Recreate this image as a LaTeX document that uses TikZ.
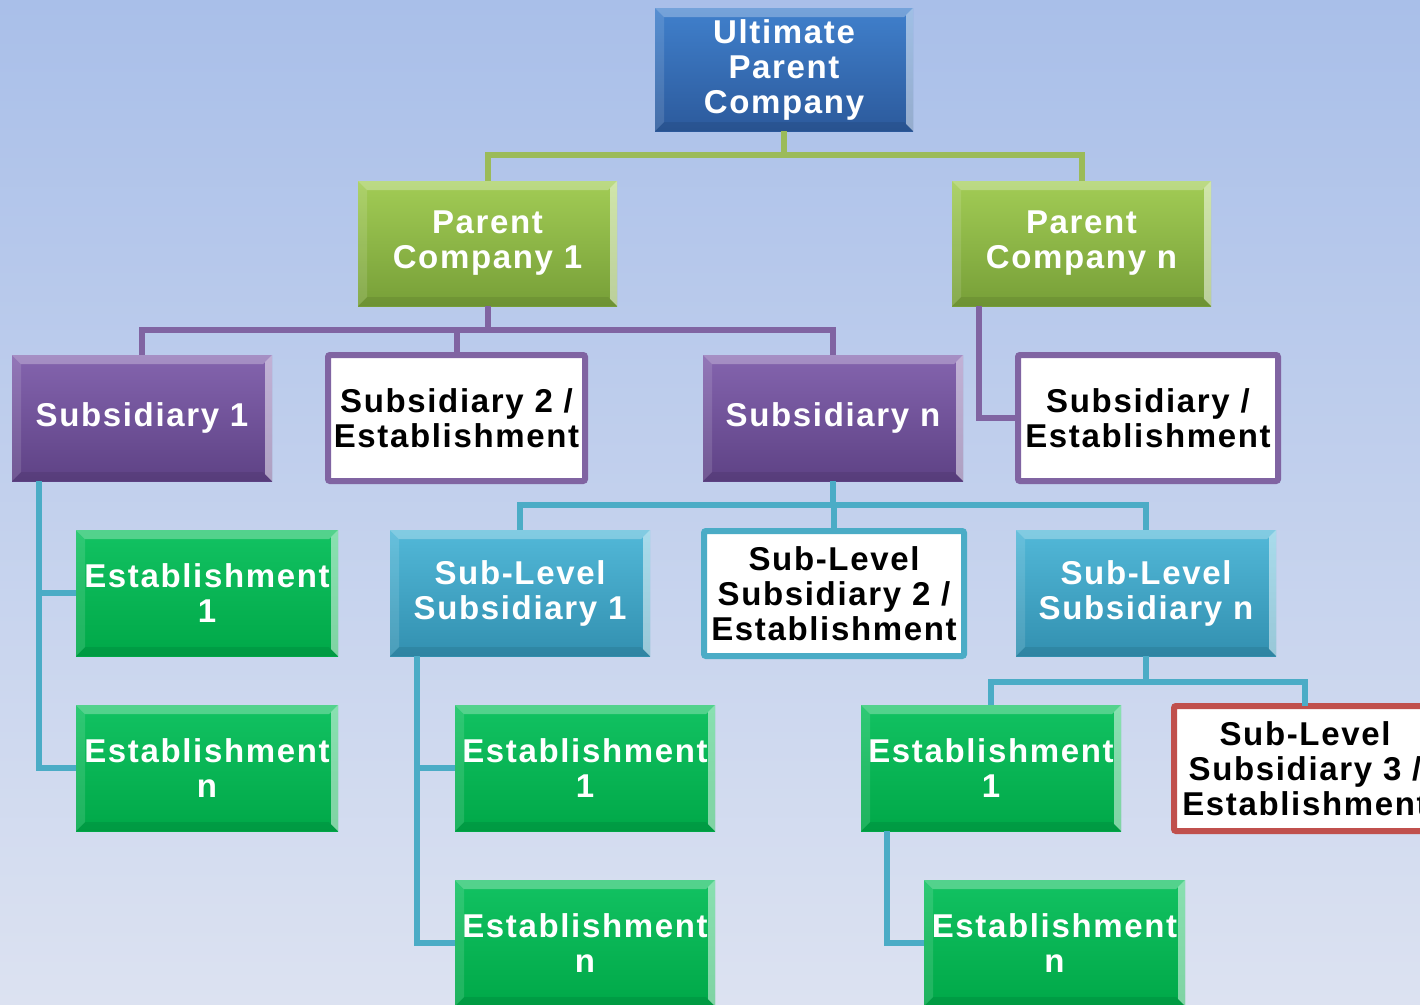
\documentclass[tikz,border=0pt]{standalone}
\usepackage{fontspec}
\setmainfont{Liberation Sans}
\newfontfamily\boxfont{Liberation Sans}[LetterSpace=5]
\usetikzlibrary{calc}
\definecolor{bgtop}{HTML}{A9BFE9}
\definecolor{bgbot}{HTML}{DCE2F1}
\definecolor{bluetop}{HTML}{4080CC}
\definecolor{bluebot}{HTML}{2C5A9C}
\definecolor{olivetop}{HTML}{A2CC55}
\definecolor{olivebot}{HTML}{779F38}
\definecolor{purptop}{HTML}{8464AE}
\definecolor{purpbot}{HTML}{5E4285}
\definecolor{cyantop}{HTML}{52B8D8}
\definecolor{cyanbot}{HTML}{3290B0}
\definecolor{grtop}{HTML}{12C262}
\definecolor{grbot}{HTML}{00A848}
\definecolor{lgreen}{HTML}{9BBB59}
\definecolor{lpurple}{HTML}{8064A2}
\definecolor{lcyan}{HTML}{4BACC6}
\definecolor{lred}{HTML}{C0504D}
\tikzset{
  box/.style={rectangle, inner sep=0pt, outer sep=0pt, align=center,
    font=\boxfont\bfseries\fontsize{33}{35}\selectfont},
  bevel/.style={text=white, path picture={
    \fill[white,opacity=0.28] (path picture bounding box.north west) -- (path picture bounding box.north east)
      -- ([xshift=-9pt,yshift=-9pt]path picture bounding box.north east) -- ([xshift=9pt,yshift=-9pt]path picture bounding box.north west) -- cycle;
    \fill[white,opacity=0.50] (path picture bounding box.north east) -- (path picture bounding box.south east)
      -- ([xshift=-7pt,yshift=7pt]path picture bounding box.south east) -- ([xshift=-7pt,yshift=-7pt]path picture bounding box.north east) -- cycle;
    \fill[black,opacity=0.08] (path picture bounding box.south west) -- (path picture bounding box.south east)
      -- ([xshift=-9pt,yshift=9pt]path picture bounding box.south east) -- ([xshift=9pt,yshift=9pt]path picture bounding box.south west) -- cycle;
    \fill[white,opacity=0.12] (path picture bounding box.north west) -- (path picture bounding box.south west)
      -- ([xshift=9pt,yshift=9pt]path picture bounding box.south west) -- ([xshift=9pt,yshift=-9pt]path picture bounding box.north west) -- cycle;
  }},
  bluebox/.style={box, bevel, top color=bluetop, bottom color=bluebot},
  olivebox/.style={box, bevel, top color=olivetop, bottom color=olivebot},
  purpbox/.style={box, bevel, top color=purptop, bottom color=purpbot},
  cyanbox/.style={box, bevel, top color=cyantop, bottom color=cyanbot},
  grbox/.style={box, bevel, top color=grtop, bottom color=grbot},
  whitebox/.style={box, fill=white, text=black, line width=6pt, rounded corners=2pt},
  conn/.style={line width=6pt},
}
\begin{document}
\begin{tikzpicture}[x=1pt,y=-1pt]
\shade[top color=bgtop, bottom color=bgbot] (0,0) rectangle (1420,1004);
\useasboundingbox (0,0) rectangle (1420,1004);

\node[bluebox, minimum width=258pt, minimum height=123pt] (up) at (784,69.5) {Ultimate\\Parent\\Company};
\node[olivebox, minimum width=259pt, minimum height=125pt] (pc1) at (487.5,243.5) {Parent\\Company 1};
\node[olivebox, minimum width=259pt, minimum height=125pt] (pcn) at (1081.5,243.5) {Parent\\Company n};

\node[purpbox, minimum width=260pt, minimum height=126pt] (s1) at (142,418) {Subsidiary 1};
\node[whitebox, draw=lpurple, minimum width=257pt, minimum height=126pt] (s2) at (456.5,418) {Subsidiary 2 /\\Establishment};
\node[purpbox, minimum width=260pt, minimum height=126pt] (sn) at (833,418) {Subsidiary n};
\node[whitebox, draw=lpurple, minimum width=260pt, minimum height=126pt] (se) at (1148,418) {Subsidiary /\\Establishment};

\node[grbox, minimum width=262pt, minimum height=126pt] (e1a) at (207,593) {Establishment\\1};
\node[grbox, minimum width=262pt, minimum height=126pt] (ena) at (207,768) {Establishment\\n};

\node[cyanbox, minimum width=260pt, minimum height=126pt] (sl1) at (520,593) {Sub-Level\\Subsidiary 1};
\node[whitebox, draw=lcyan, minimum width=260pt, minimum height=125pt] (sl2) at (834,593.5) {Sub-Level\\Subsidiary 2 /\\Establishment};
\node[cyanbox, minimum width=260pt, minimum height=126pt] (sln) at (1146,593) {Sub-Level\\Subsidiary n};

\node[grbox, minimum width=260pt, minimum height=126pt] (e1b) at (585,768) {Establishment\\1};
\node[grbox, minimum width=260pt, minimum height=126pt] (enb) at (585,943) {Establishment\\n};
\node[grbox, minimum width=260pt, minimum height=126pt] (e1c) at (991,768) {Establishment\\1};
\node[grbox, minimum width=261pt, minimum height=126pt] (enc) at (1054.5,943) {Establishment\\n};
\node[whitebox, draw=lred, minimum width=262pt, minimum height=125pt] (sl3) at (1305,768.5) {Sub-Level\\Subsidiary 3 /\\Establishment};

% connectors
\draw[conn, lgreen] (up.south) -- ++(0,24) -| (pc1.north);
\draw[conn, lgreen] (up.south) -- ++(0,24) -| (pcn.north);

\draw[conn, lpurple] (pc1.south) -- ++(0,24) -| (s1.north);
\draw[conn, lpurple] (pc1.south) -- ++(0,24) -| (s2.north);
\draw[conn, lpurple] (pc1.south) -- ++(0,24) -| (sn.north);
\draw[conn, lpurple] ($(pcn.south west)+(27,0)$) |- (se.west);

\draw[conn, lcyan] ($(s1.south west)+(27,0)$) |- (e1a.west);
\draw[conn, lcyan] ($(s1.south west)+(27,0)$) |- (ena.west);

\draw[conn, lcyan] (sn.south) -- ++(0,24) -| (sl1.north);
\draw[conn, lcyan] (sn.south) -- ++(0,24) -| (sl2.north);
\draw[conn, lcyan] (sn.south) -- ++(0,24) -| (sln.north);

\draw[conn, lcyan] ($(sl1.south west)+(27,0)$) |- (e1b.west);
\draw[conn, lcyan] ($(sl1.south west)+(27,0)$) |- (enb.west);

\draw[conn, lcyan] (sln.south) -- ++(0,26) -| (e1c.north);
\draw[conn, lcyan] (sln.south) -- ++(0,26) -| (sl3.north);
\draw[conn, lcyan] ($(e1c.south west)+(26,0)$) |- (enc.west);
\end{tikzpicture}
\end{document}
